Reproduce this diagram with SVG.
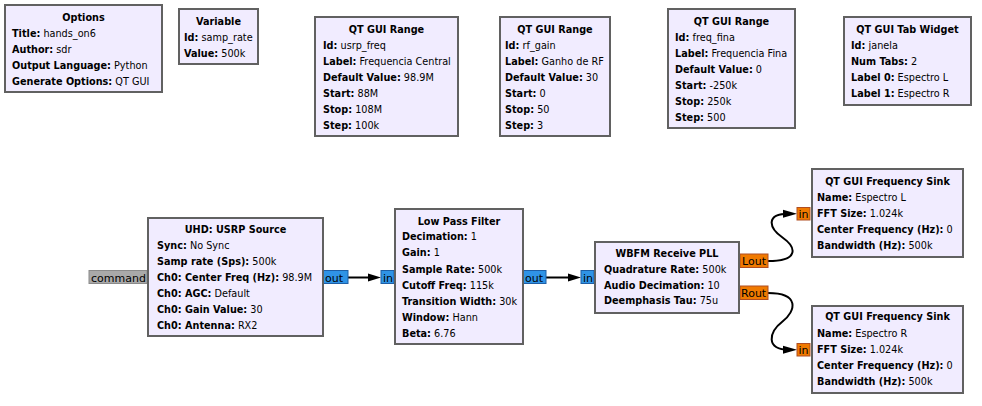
<svg xmlns="http://www.w3.org/2000/svg" width="982" height="406" viewBox="0 0 982 406">
<style>
text{font-family:"DejaVu Sans","Liberation Sans",sans-serif;font-size:9.7px;fill:#000}
.blk{fill:#F1ECFF;stroke:#616161;stroke-width:2}
.t{font-weight:bold;text-anchor:middle}
.b{font-weight:bold}
.pc{fill:#2F93E6;stroke:#1E5FA6;stroke-width:1}
.pf{fill:#F07A00;stroke:#B04E22;stroke-width:1}
.pg{fill:#A9A9A9;stroke:#8A8A8A;stroke-width:1}
.pt{font-size:11px}
.wire{fill:none;stroke:#000;stroke-width:2}
.arr{fill:#000}
</style>
<rect width="982" height="406" fill="#fff"/>
<g id="options">
<rect class="blk" x="5" y="5" width="157" height="87"/>
<text class="t" x="83.5" y="21">Options</text>
<text x="12" y="37"><tspan class="b">Title:</tspan> hands_on6</text>
<text x="12" y="53"><tspan class="b">Author:</tspan> sdr</text>
<text x="12" y="69"><tspan class="b">Output Language:</tspan> Python</text>
<text x="12" y="85"><tspan class="b">Generate Options:</tspan> QT GUI</text>
</g>
<g id="variable">
<rect class="blk" x="179" y="9" width="79" height="55"/>
<text class="t" x="218.5" y="25">Variable</text>
<text x="184" y="41"><tspan class="b">Id:</tspan> samp_rate</text>
<text x="184" y="57"><tspan class="b">Value:</tspan> 500k</text>
</g>
<g id="range_usrp_freq">
<rect class="blk" x="315" y="17" width="143" height="119"/>
<text class="t" x="386.5" y="33">QT GUI Range</text>
<text x="323" y="49"><tspan class="b">Id:</tspan> usrp_freq</text>
<text x="323" y="65"><tspan class="b">Label:</tspan> Frequencia Central</text>
<text x="323" y="81"><tspan class="b">Default Value:</tspan> 98.9M</text>
<text x="323" y="97"><tspan class="b">Start:</tspan> 88M</text>
<text x="323" y="113"><tspan class="b">Stop:</tspan> 108M</text>
<text x="323" y="129"><tspan class="b">Step:</tspan> 100k</text>
</g>
<g id="range_rf_gain">
<rect class="blk" x="500" y="17" width="110" height="119"/>
<text class="t" x="555" y="33">QT GUI Range</text>
<text x="505" y="49"><tspan class="b">Id:</tspan> rf_gain</text>
<text x="505" y="65"><tspan class="b">Label:</tspan> Ganho de RF</text>
<text x="505" y="81"><tspan class="b">Default Value:</tspan> 30</text>
<text x="505" y="97"><tspan class="b">Start:</tspan> 0</text>
<text x="505" y="113"><tspan class="b">Stop:</tspan> 50</text>
<text x="505" y="129"><tspan class="b">Step:</tspan> 3</text>
</g>
<g id="range_freq_fina">
<rect class="blk" x="668" y="9" width="127" height="119"/>
<text class="t" x="731.5" y="25">QT GUI Range</text>
<text x="675" y="41"><tspan class="b">Id:</tspan> freq_fina</text>
<text x="675" y="57"><tspan class="b">Label:</tspan> Frequencia Fina</text>
<text x="675" y="73"><tspan class="b">Default Value:</tspan> 0</text>
<text x="675" y="89"><tspan class="b">Start:</tspan> -250k</text>
<text x="675" y="105"><tspan class="b">Stop:</tspan> 250k</text>
<text x="675" y="121"><tspan class="b">Step:</tspan> 500</text>
</g>
<g id="tab_widget">
<rect class="blk" x="844" y="17" width="127" height="88"/>
<text class="t" x="907.5" y="33">QT GUI Tab Widget</text>
<text x="851" y="49"><tspan class="b">Id:</tspan> janela</text>
<text x="851" y="65"><tspan class="b">Num Tabs:</tspan> 2</text>
<text x="851" y="81"><tspan class="b">Label 0:</tspan> Espectro L</text>
<text x="851" y="97"><tspan class="b">Label 1:</tspan> Espectro R</text>
</g>
<g id="connectors">
<line class="wire" x1="348" y1="277.5" x2="370" y2="277.5"/>
<polygon class="arr" points="368,273.5 381,277.5 368,281.5"/>
<line class="wire" x1="546" y1="277.5" x2="570" y2="277.5"/>
<polygon class="arr" points="568,273.5 581,277.5 568,281.5"/>
<path class="wire" d="M768,261 C800,261 796,247 782.5,237.5 C769,228 765,213.8 789,213.8"/>
<polygon class="arr" points="783,209.8 797,213.8 783,217.8"/>
<path class="wire" d="M768,293 C800,293 796,311 782.5,321.5 C769,332 765,349.7 789,349.7"/>
<polygon class="arr" points="783,345.7 797,349.7 783,353.7"/>
</g>
<g id="usrp_source">
<rect class="pg" x="89" y="270.5" width="58" height="13"/>
<text class="pt" x="91" y="281.5" fill="#222">command</text>
<rect class="pc" x="323" y="270.5" width="25" height="13"/>
<text class="pt" x="325" y="281.5">out</text>
<rect class="blk" x="148" y="218" width="175" height="118"/>
<text class="t" x="235.5" y="233">UHD: USRP Source</text>
<text x="157" y="249"><tspan class="b">Sync:</tspan> No Sync</text>
<text x="157" y="265"><tspan class="b">Samp rate (Sps):</tspan> 500k</text>
<text x="157" y="281"><tspan class="b">Ch0: Center Freq (Hz):</tspan> 98.9M</text>
<text x="157" y="297"><tspan class="b">Ch0: AGC:</tspan> Default</text>
<text x="157" y="313"><tspan class="b">Ch0: Gain Value:</tspan> 30</text>
<text x="157" y="329"><tspan class="b">Ch0: Antenna:</tspan> RX2</text>
</g>
<g id="low_pass_filter">
<rect class="pc" x="381" y="270.5" width="13" height="13"/>
<text class="pt" x="383" y="281.5">in</text>
<rect class="pc" x="523" y="270.5" width="23" height="13"/>
<text class="pt" x="525" y="281.5">out</text>
<rect class="blk" x="395" y="209" width="128" height="135"/>
<text class="t" x="459" y="225">Low Pass Filter</text>
<text x="402" y="240"><tspan class="b">Decimation:</tspan> 1</text>
<text x="402" y="256"><tspan class="b">Gain:</tspan> 1</text>
<text x="402" y="272.5"><tspan class="b">Sample Rate:</tspan> 500k</text>
<text x="402" y="288.5"><tspan class="b">Cutoff Freq:</tspan> 115k</text>
<text x="402" y="304.5"><tspan class="b">Transition Width:</tspan> 30k</text>
<text x="402" y="320.5"><tspan class="b">Window:</tspan> Hann</text>
<text x="402" y="336.5"><tspan class="b">Beta:</tspan> 6.76</text>
</g>
<g id="wbfm_receive_pll">
<rect class="pc" x="581" y="270.5" width="13" height="13"/>
<text class="pt" x="583" y="281.5">in</text>
<rect class="pf" x="740" y="254" width="28" height="13.5"/>
<text class="pt" x="742" y="265">Lout</text>
<rect class="pf" x="740" y="286" width="28" height="13.5"/>
<text class="pt" x="741" y="297">Rout</text>
<rect class="blk" x="595" y="242" width="144" height="71"/>
<text class="t" x="667" y="256.5">WBFM Receive PLL</text>
<text x="604" y="272.5"><tspan class="b">Quadrature Rate:</tspan> 500k</text>
<text x="604" y="288.5"><tspan class="b">Audio Decimation:</tspan> 10</text>
<text x="604" y="304"><tspan class="b">Deemphasis Tau:</tspan> 75u</text>
</g>
<g id="freq_sink_l">
<rect class="pf" x="797" y="207.5" width="13" height="12.5"/>
<text class="pt" x="798.5" y="218">in</text>
<rect class="blk" x="812" y="169" width="151" height="88"/>
<text class="t" x="887.5" y="185">QT GUI Frequency Sink</text>
<text x="817" y="201"><tspan class="b">Name:</tspan> Espectro L</text>
<text x="817" y="217"><tspan class="b">FFT Size:</tspan> 1.024k</text>
<text x="817" y="233"><tspan class="b">Center Frequency (Hz):</tspan> 0</text>
<text x="817" y="248.5"><tspan class="b">Bandwidth (Hz):</tspan> 500k</text>
</g>
<g id="freq_sink_r">
<rect class="pf" x="797" y="343.5" width="13" height="12.5"/>
<text class="pt" x="798.5" y="354">in</text>
<rect class="blk" x="812" y="306" width="151" height="87"/>
<text class="t" x="887.5" y="320">QT GUI Frequency Sink</text>
<text x="817" y="337"><tspan class="b">Name:</tspan> Espectro R</text>
<text x="817" y="353"><tspan class="b">FFT Size:</tspan> 1.024k</text>
<text x="817" y="368.5"><tspan class="b">Center Frequency (Hz):</tspan> 0</text>
<text x="817" y="384.5"><tspan class="b">Bandwidth (Hz):</tspan> 500k</text>
</g>
</svg>
